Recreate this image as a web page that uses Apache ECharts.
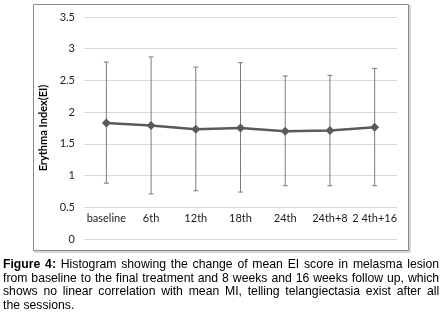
<!DOCTYPE html>
<html><head><meta charset="utf-8">
<script src="https://cdn.jsdelivr.net/npm/echarts@6/dist/echarts.min.js"></script>
<style>
html,body{margin:0;padding:0;background:#fff;}
#wrap{position:relative;width:442px;height:319px;overflow:hidden;}
#chart{position:absolute;left:0;top:0;width:442px;height:319px;}
#cap{position:absolute;left:3px;top:257px;width:464px;transform:scaleX(0.94);transform-origin:0 0;font-family:"Liberation Sans",Arial,sans-serif;font-size:13px;line-height:13.5px;color:#000;}
#cap div{text-align:justify;text-align-last:justify;white-space:nowrap;}
#cap div.last{text-align-last:left;}
</style></head>
<body><div id="wrap"><div id="chart"></div>
<div id="cap">
<div><b>Figure 4:</b> Histogram showing the change of mean EI score in melasma lesion</div>
<div>from baseline to the final treatment and 8 weeks and 16 weeks follow up, which</div>
<div>shows no linear correlation with mean MI, telling telangiectasia exist after all</div>
<div class="last">the sessions.</div>
</div></div>
<script>
const categories = ['baseline','6th','12th','18th','24th','24th+8','2 4th+16'];
const meanEI = [1.83, 1.79, 1.73, 1.75, 1.70, 1.71, 1.76];
const upperEI = [2.79, 2.87, 2.71, 2.78, 2.57, 2.58, 2.69];
const lowerEI = [0.88, 0.71, 0.76, 0.74, 0.84, 0.84, 0.84];
const yTicks = [0, 0.5, 1, 1.5, 2, 2.5, 3, 3.5];

const chart = echarts.init(document.getElementById('chart'), null, {renderer:'canvas'});
const errData = categories.map((c,i)=>[i, lowerEI[i], upperEI[i]]);
chart.setOption({
  animation:false,
  graphic:[{type:'rect', shape:{x:33.5,y:4.5,width:375,height:246}, style:{fill:'none',stroke:'#8a8a8a',lineWidth:1}, z:-1},
           {type:'polyline', shape:{points:[[410,5],[410,252],[34,252]]}, style:{fill:'none',stroke:'#c8c8c8',lineWidth:1.5}, z:-1}],
  grid:{left:84,right:45,top:17,height:222},
  xAxis:{type:'category',data:categories,boundaryGap:true,
    axisLine:{show:false},axisTick:{show:false},
    axisLabel:{margin:-26,color:'#222',fontSize:11,fontFamily:'Lato',interval:0}},
  yAxis:{type:'value',min:yTicks[0],max:yTicks[yTicks.length-1],interval:0.5,
    name:'Erythma Index(EI)',nameLocation:'middle',nameGap:31,nameRotate:90,
    nameTextStyle:{fontWeight:'bold',fontSize:11,color:'#000',fontFamily:'Lato'},
    axisLine:{show:false},axisTick:{show:false},
    axisLabel:{margin:9,color:'#222',fontSize:11,fontFamily:'Lato'},
    splitLine:{lineStyle:{color:'#d9d9d9',width:1}}},
  series:[
    {type:'custom',data:errData,z:1,
      renderItem:function(params,api){
        const x=api.value(0);
        const lo=api.coord([x,api.value(1)]);
        const hi=api.coord([x,api.value(2)]);
        const c=2.5;
        const st={stroke:'#7a7a7a',lineWidth:1,fill:'none'};
        return {type:'group',children:[
          {type:'line',shape:{x1:lo[0],y1:lo[1],x2:hi[0],y2:hi[1]},style:st},
          {type:'line',shape:{x1:lo[0]-c,y1:lo[1],x2:lo[0]+c,y2:lo[1]},style:st},
          {type:'line',shape:{x1:hi[0]-c,y1:hi[1],x2:hi[0]+c,y2:hi[1]},style:st}
        ]};
      }},
    {type:'line',data:meanEI,z:3,symbol:'diamond',symbolSize:9,
      lineStyle:{color:'#5a5a5a',width:2.5},itemStyle:{color:'#5a5a5a'}}
  ]
});
</script></body></html>
